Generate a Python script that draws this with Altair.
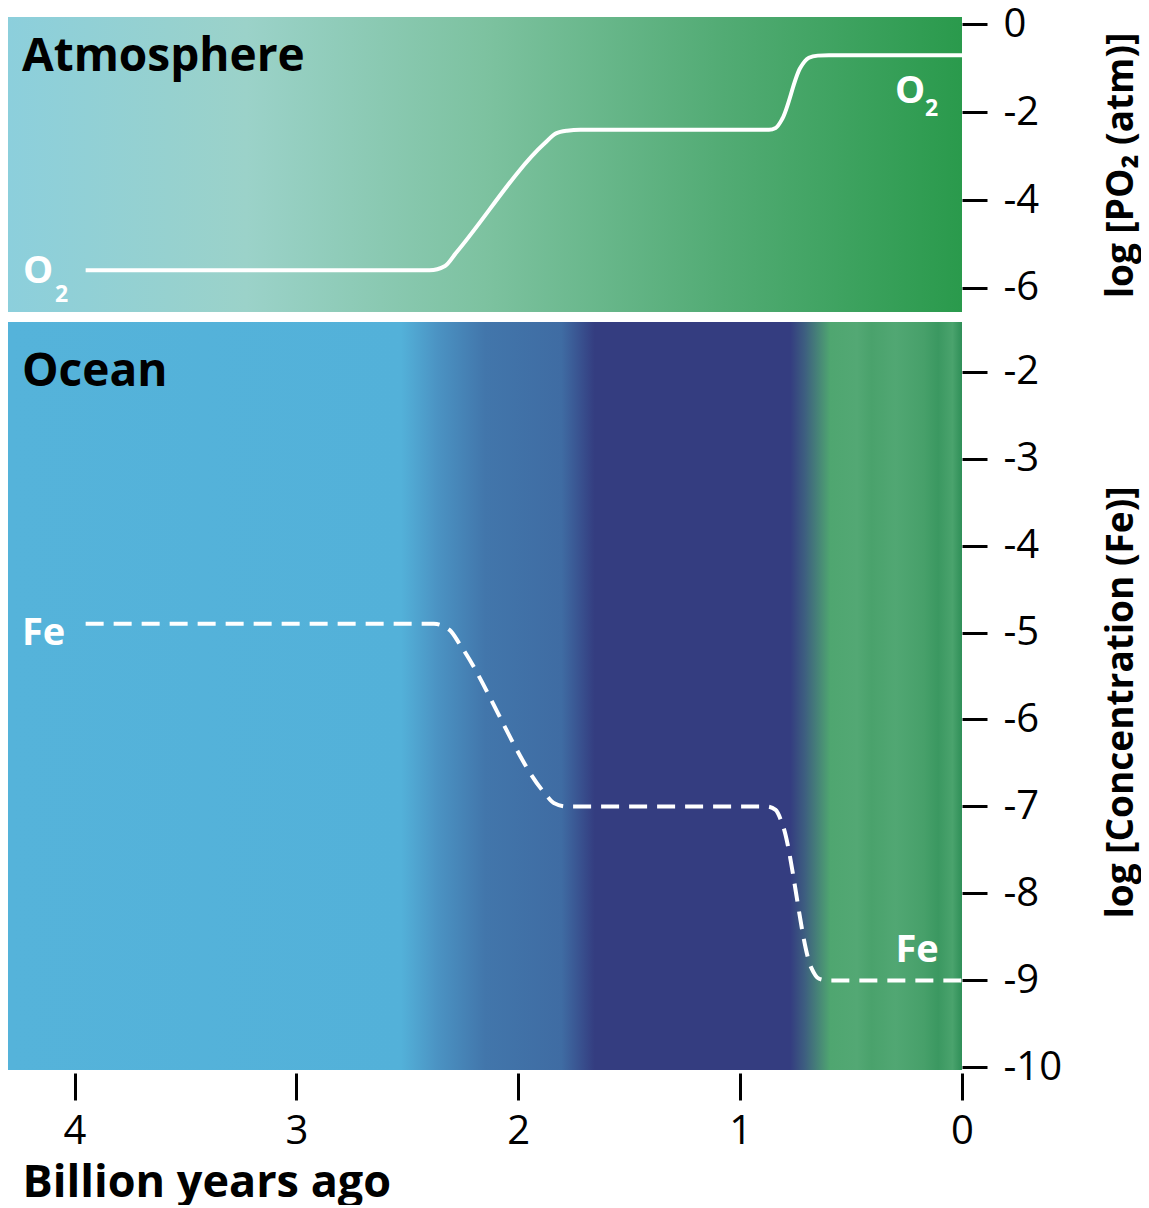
import altair as alt
import pandas as pd

# ---------------- data ----------------
x_ticks = [4, 3, 2, 1, 0]
o2_ticks = [0, -2, -4, -6]
fe_ticks = [-2, -3, -4, -5, -6, -7, -8, -9, -10]

o2_age = [3.95, 2.40, 2.33, 2.28, 1.88, 1.83, 1.78, 1.72, 0.87, 0.84, 0.81, 0.73, 0.69, 0.65, 0.60, 0.0]
o2_logp = [-5.6, -5.6, -5.5, -5.2, -2.7, -2.48, -2.42, -2.4, -2.4, -2.36, -2.15, -1.0, -0.76, -0.71, -0.7, -0.7]

fe_age = [3.95, 2.38, 2.31, 2.26, 1.88, 1.84, 1.78, 0.88, 0.84, 0.81, 0.68, 0.645, 0.60, 0.0]
fe_logc = [-4.9, -4.9, -4.97, -5.15, -6.85, -6.96, -7.0, -7.0, -7.04, -7.2, -8.85, -8.98, -9.0, -9.0]

atm_labels = ["Atmosphere", "O", "2", "O", "2"]
atm_lab_x = [4.237, 4.232, 4.088, 0.302, 0.167]
atm_lab_y = [-1.05, -5.90, -6.33, -1.79, -2.08]
atm_lab_size = [46, 38, 23, 38, 23]
atm_lab_color = ["black", "white", "white", "white", "white"]

oce_labels = ["Ocean", "Fe", "Fe"]
oce_lab_x = [4.237, 4.237, 0.30]
oce_lab_y = [-2.17, -5.14, -8.79]
oce_lab_size = [46, 38, 38]
oce_lab_color = ["black", "white", "white"]

X_DOM = [4.3, 0]
ATM_DOM = [-6.55, 0.17]
OCE_DOM = [-10.03, -1.43]

W = 954
H_TOP = 295
H_BOT = 748
FONT = "Open Sans"

atm_stops = [(0.0, "#8ccfdc"), (0.25, "#9bd2c9"), (0.5, "#7dc2a0"), (0.75, "#52ab74"), (1.0, "#2a9a4c")]
oce_stops = [
    (0.0, "#55b3da"), (0.412, "#53b1d9"), (0.45, "#4b93c3"), (0.50, "#4276ab"),
    (0.58, "#3f6ca3"), (0.615, "#343d80"), (0.82, "#343d80"), (0.835, "#3d5e80"),
    (0.862, "#4fa670"), (0.89, "#53a874"), (0.905, "#4aa26c"), (0.93, "#51a773"),
    (0.96, "#47a06a"), (0.975, "#3b9861"), (0.99, "#4aa36d"), (1.0, "#2f8f58"),
]

xscale = alt.Scale(domain=X_DOM, nice=False, zero=False)


def gradient(stops):
    return alt.Gradient(
        gradient="linear",
        stops=[alt.GradientStop(offset=o, color=c) for o, c in stops],
        x1=0, x2=1, y1=0, y2=0,
    )


def panel(dom, ticks, ytitle, title_y, height, stops, line_df, dash, lab_df, show_x):
    yscale = alt.Scale(domain=dom, nice=False, zero=False)
    yaxis = alt.Axis(
        orient="right", values=ticks, title=ytitle, grid=False, domain=False,
        labelExpr="'' + datum.value",
        tickSize=25, tickWidth=3, tickColor="black",
        labelFontSize=40, labelFont=FONT, labelColor="black", labelPadding=16,
        labelFlush=False, labelOverlap=False,
        titleFontSize=37, titleFont=FONT, titleFontWeight="bold", titleColor="black",
        titleAngle=270, titleX=170, titleY=title_y, titleAlign="center",
        titleBaseline="alphabetic",
    )
    if show_x:
        xaxis = alt.Axis(
            values=x_ticks, format="d", grid=False, domain=False, offset=3,
            tickSize=27, tickWidth=3, tickColor="black",
            labelFontSize=40, labelFont=FONT, labelColor="black",
            labelBaseline="alphabetic", labelPadding=43, labelFlush=False,
            labelOverlap=False,
            title="Billion years ago", titleFontSize=45, titleFont=FONT,
            titleFontWeight="bold", titleColor="black",
            titleX=14, titleY=123, titleAlign="left", titleBaseline="alphabetic",
        )
    else:
        xaxis = None

    bg_df = pd.DataFrame({"x": [X_DOM[0]], "x2": [X_DOM[1]], "y": [dom[0]], "y2": [dom[1]]})
    bg = alt.Chart(bg_df).mark_rect(color=gradient(stops), strokeWidth=0).encode(
        x=alt.X("x:Q", scale=xscale, axis=xaxis),
        x2="x2:Q",
        y=alt.Y("y:Q", scale=yscale, axis=yaxis),
        y2="y2:Q",
    )
    line_kw = dict(color="white", strokeWidth=4, interpolate="monotone", strokeCap="butt")
    if dash:
        line_kw["strokeDash"] = dash
    line = alt.Chart(line_df).mark_line(**line_kw).encode(
        x=alt.X("age:Q", scale=xscale, axis=xaxis),
        y=alt.Y("val:Q", scale=yscale, axis=yaxis),
        order="i:Q",
    )
    text = alt.Chart(lab_df).mark_text(
        align="left", baseline="alphabetic", font=FONT, fontWeight="bold"
    ).encode(
        x=alt.X("x:Q", scale=xscale, axis=xaxis),
        y=alt.Y("y:Q", scale=yscale, axis=yaxis),
        text="t:N",
        size=alt.Size("s:Q", scale=None, legend=None),
        color=alt.Color("c:N", scale=None, legend=None),
    )
    return alt.layer(bg, line, text).properties(width=W, height=height)


o2_df = pd.DataFrame({"age": o2_age, "val": o2_logp, "i": range(len(o2_age))})
fe_df = pd.DataFrame({"age": fe_age, "val": fe_logc, "i": range(len(fe_age))})
atm_lab_df = pd.DataFrame({"t": atm_labels, "x": atm_lab_x, "y": atm_lab_y, "s": atm_lab_size, "c": atm_lab_color})
oce_lab_df = pd.DataFrame({"t": oce_labels, "x": oce_lab_x, "y": oce_lab_y, "s": oce_lab_size, "c": oce_lab_color})

top = panel(ATM_DOM, o2_ticks, "log [PO₂ (atm)]", 148, H_TOP, atm_stops, o2_df, None, atm_lab_df, False)
bot = panel(OCE_DOM, fe_ticks, "log [Concentration (Fe)]", 380, H_BOT, oce_stops, fe_df, [18, 10], oce_lab_df, True)

chart = alt.vconcat(top, bot, spacing=10).resolve_scale(y="independent").properties(
    padding={"left": 0, "top": -4, "right": 2, "bottom": 0},
    background="white",
).configure_view(stroke=None).configure_concat(spacing=10)

chart.save("out.html", embed_options={"renderer": "svg", "actions": False})
